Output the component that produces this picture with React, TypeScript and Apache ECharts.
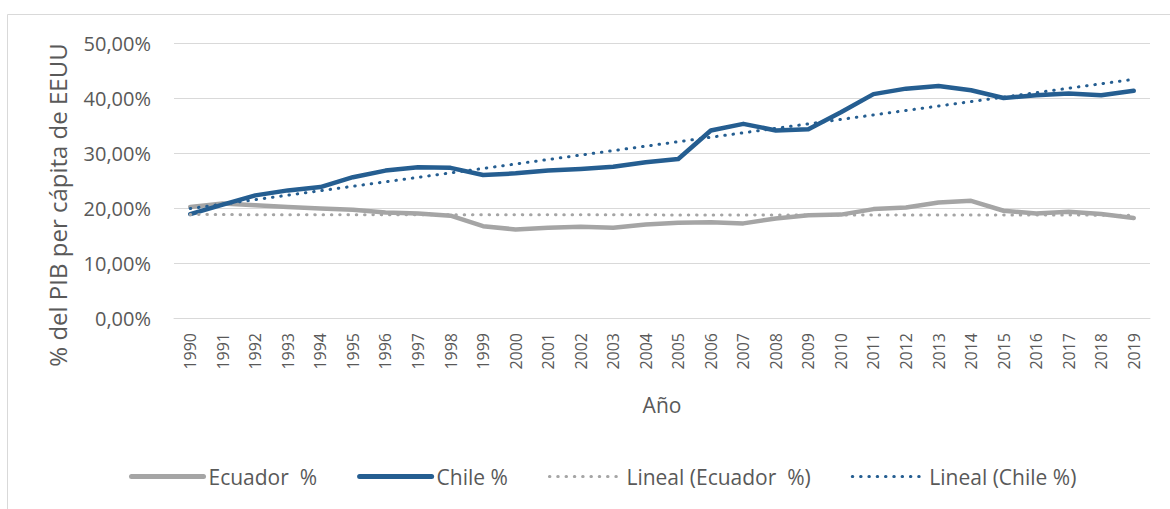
import React, { useEffect, useRef } from "react";
import * as echarts from "echarts";

const years = [
  "1990", "1991", "1992", "1993", "1994", "1995", "1996", "1997", "1998", "1999",
  "2000", "2001", "2002", "2003", "2004", "2005", "2006", "2007", "2008", "2009",
  "2010", "2011", "2012", "2013", "2014", "2015", "2016", "2017", "2018", "2019",
];

const ecuador = [
  20.2, 20.8, 20.5, 20.2, 19.9, 19.7, 19.2, 19.0, 18.6, 16.7,
  16.1, 16.4, 16.6, 16.4, 17.0, 17.3, 17.4, 17.2, 18.1, 18.7,
  18.8, 19.8, 20.1, 21.0, 21.3, 19.5, 19.0, 19.3, 18.9, 18.2,
];

const chile = [
  18.9, 20.6, 22.3, 23.2, 23.8, 25.6, 26.8, 27.4, 27.3, 26.0,
  26.3, 26.8, 27.1, 27.5, 28.3, 28.9, 34.1, 35.3, 34.1, 34.3,
  37.4, 40.7, 41.7, 42.2, 41.4, 40.0, 40.5, 40.8, 40.5, 41.3,
];

// Linear trend lines: values read at the first and last year
const ecuadorTrend = [18.8, 18.7];
const chileTrend = [19.9, 43.4];

const seriesNames = ["Ecuador  %", "Chile %", "Lineal (Ecuador  %)", "Lineal (Chile %)"];
const yTitle = "% del PIB per cápita de EEUU";
const xTitle = "Año";

const BLUE = "#255E91";
const GRAY = "#A5A5A5";
const TEXT = "#595959";
const FONT = "Open Sans";

export default function App() {
  const ref = useRef<HTMLDivElement>(null);

  useEffect(() => {
    if (!ref.current) return;
    const chart = echarts.init(ref.current, undefined, { renderer: "svg" });
    const first = years[0];
    const last = years[years.length - 1];
    const dotted = (color: string) => ({
      color,
      width: 3,
      type: [0.5, 7.8] as number[],
      cap: "round" as const,
    });
    const hidden = { opacity: 0, borderWidth: 0 };
    chart.setOption({
      animation: false,
      backgroundColor: "#ffffff",
      textStyle: { fontFamily: FONT },
      graphic: [
        {
          type: "rect",
          shape: { x: 7.5, y: 14.5, width: 1300, height: 600 },
          style: { fill: "none", stroke: "#D9D9D9", lineWidth: 1 },
          silent: true,
          z: -1,
        },
        {
          type: "text",
          x: 57,
          y: 205,
          rotation: Math.PI / 2,
          style: {
            text: yTitle,
            fill: TEXT,
            fontSize: 24,
            fontFamily: FONT,
            align: "center",
            verticalAlign: "middle",
          },
          silent: true,
        },
      ],
      grid: { left: 174, right: 20, top: 43, bottom: 191, containLabel: false },
      legend: {
        left: 129,
        top: 466,
        padding: 0,
        itemWidth: 72,
        itemHeight: 24,
        itemGap: 40,
        textStyle: { color: TEXT, fontSize: 21, fontFamily: FONT },
        data: [
          { name: seriesNames[0], itemStyle: hidden, lineStyle: { width: 5, cap: "round", color: GRAY } },
          { name: seriesNames[1], itemStyle: hidden, lineStyle: { width: 5, cap: "round", color: BLUE } },
          { name: seriesNames[2], itemStyle: hidden, lineStyle: dotted(GRAY) },
          { name: seriesNames[3], itemStyle: hidden, lineStyle: dotted(BLUE) },
        ],
      },
      xAxis: {
        type: "category",
        data: years,
        boundaryGap: true,
        name: xTitle,
        nameLocation: "middle",
        nameGap: 76,
        nameTextStyle: { color: TEXT, fontSize: 21, fontFamily: FONT },
        axisLine: { show: true, lineStyle: { color: "#D9D9D9", width: 1 } },
        axisTick: { show: false },
        axisLabel: {
          rotate: 90,
          margin: 15,
          color: TEXT,
          fontSize: 16,
          fontFamily: FONT,
          interval: 0,
        },
      },
      yAxis: {
        type: "value",
        min: 0,
        max: 50,
        interval: 10,
        axisLine: { show: false },
        axisTick: { show: false },
        splitLine: { lineStyle: { color: "#D9D9D9", width: 1 } },
        axisLabel: {
          margin: 23,
          color: TEXT,
          fontSize: 20,
          fontFamily: FONT,
          formatter: (v: number) => v.toFixed(2).replace(".", ",") + "%",
        },
      },
      series: [
        {
          name: seriesNames[0],
          type: "line",
          data: ecuador,
          symbol: "none",
          lineStyle: { color: GRAY, width: 4.5, join: "round", cap: "round" },
          itemStyle: { color: GRAY },
        },
        {
          name: seriesNames[1],
          type: "line",
          data: chile,
          symbol: "none",
          lineStyle: { color: BLUE, width: 4.5, join: "round", cap: "round" },
          itemStyle: { color: BLUE },
        },
        {
          name: seriesNames[2],
          type: "line",
          data: [
            [first, ecuadorTrend[0]],
            [last, ecuadorTrend[1]],
          ],
          symbol: "none",
          lineStyle: dotted(GRAY),
          itemStyle: { color: GRAY },
        },
        {
          name: seriesNames[3],
          type: "line",
          data: [
            [first, chileTrend[0]],
            [last, chileTrend[1]],
          ],
          symbol: "none",
          lineStyle: dotted(BLUE),
          itemStyle: { color: BLUE },
        },
      ],
    });
    return () => chart.dispose();
  }, []);

  return (
    <div
      ref={ref}
      style={{ position: "absolute", left: 0, top: 0, width: 1170, height: 509 }}
    />
  );
}
